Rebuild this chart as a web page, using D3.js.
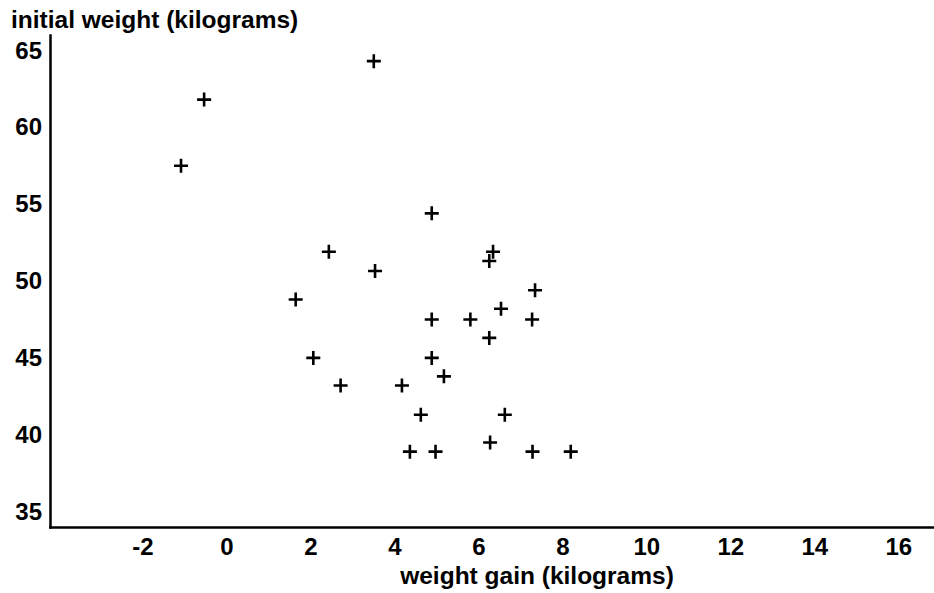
<!DOCTYPE html>
<html lang="en">
<head>
  <meta charset="utf-8">
  <script src="https://d3js.org/d3.v7.min.js"></script>
  <style>
    body { margin: 0; background: #fff; }
    svg text { font-family: "Liberation Sans", Arial, sans-serif; fill: #000; }
    .axis path { stroke: #000; stroke-width: 2.5px; }
    .axis text { font-size: 24px; font-weight: bold; }
    .title { font-size: 24.5px; font-weight: bold; }
    .plus { stroke: #000; stroke-width: 2.6px; fill: none; }
  </style>
</head>
<body>
<script>
// weight gain (kg) vs initial weight (kg)
const gain = [3.51, -0.53, -1.08, 4.89, 2.44, 6.35, 6.26, 3.54, 1.65, 7.35,
              4.89, 5.81, 6.54, 7.28, 6.26, 2.07, 4.89, 2.72, 4.18, 5.18,
              4.63, 6.63, 6.28, 4.37, 4.98, 7.29, 8.20];
const initial = [64.3, 61.8, 57.5, 54.4, 51.9, 51.9, 51.3, 50.65, 48.8, 49.4,
                 47.5, 47.5, 48.2, 47.5, 46.3, 45.0, 45.0, 43.2, 43.2, 43.8,
                 41.3, 41.3, 39.5, 38.9, 38.9, 38.9, 38.9];
const xTicks = [-2, 0, 2, 4, 6, 8, 10, 12, 14, 16];
const yTicks = [35, 40, 45, 50, 55, 60, 65];

const width = 934, height = 593;
const margin = { left: 50, right: 934, top: 35, bottom: 527 };

const svg = d3.select("body").append("svg")
  .attr("width", width)
  .attr("height", height);

const x = d3.scaleLinear().domain([-4.2, 16.85]).range([margin.left, margin.right]);
const y = d3.scaleLinear().domain([34, 66]).range([margin.bottom, margin.top]);

// axes (plain hyphen for negatives, like the original)
svg.append("g")
  .attr("class", "axis")
  .attr("transform", "translate(0," + margin.bottom + ")")
  .call(d3.axisBottom(x).tickValues(xTicks).tickSize(0).tickPadding(11).tickFormat(d => String(d)))
  .call(g => g.selectAll(".tick line").remove());

svg.append("g")
  .attr("class", "axis")
  .attr("transform", "translate(" + margin.left + ",0)")
  .call(d3.axisLeft(y).tickValues(yTicks).tickSize(0).tickPadding(8))
  .call(g => g.selectAll(".tick line").remove());

svg.selectAll(".axis").attr("font-family", null).attr("font-size", null);
svg.selectAll(".axis path").attr("stroke-linecap", "square");

// plus markers
const arm = 7;
svg.append("g")
  .selectAll("path")
  .data(gain.map((g, i) => [g, initial[i]]))
  .join("path")
  .attr("class", "plus")
  .attr("d", d => {
    const cx = x(d[0]), cy = y(d[1]);
    return "M" + (cx - arm) + "," + cy + "h" + (2 * arm) + "M" + cx + "," + (cy - arm) + "v" + (2 * arm);
  });

// axis titles
svg.append("text")
  .attr("class", "title")
  .attr("x", 11)
  .attr("y", 28)
  .text("initial weight (kilograms)");

svg.append("text")
  .attr("class", "title")
  .attr("x", 537)
  .attr("y", 584)
  .attr("text-anchor", "middle")
  .text("weight gain (kilograms)");
</script>
</body>
</html>
